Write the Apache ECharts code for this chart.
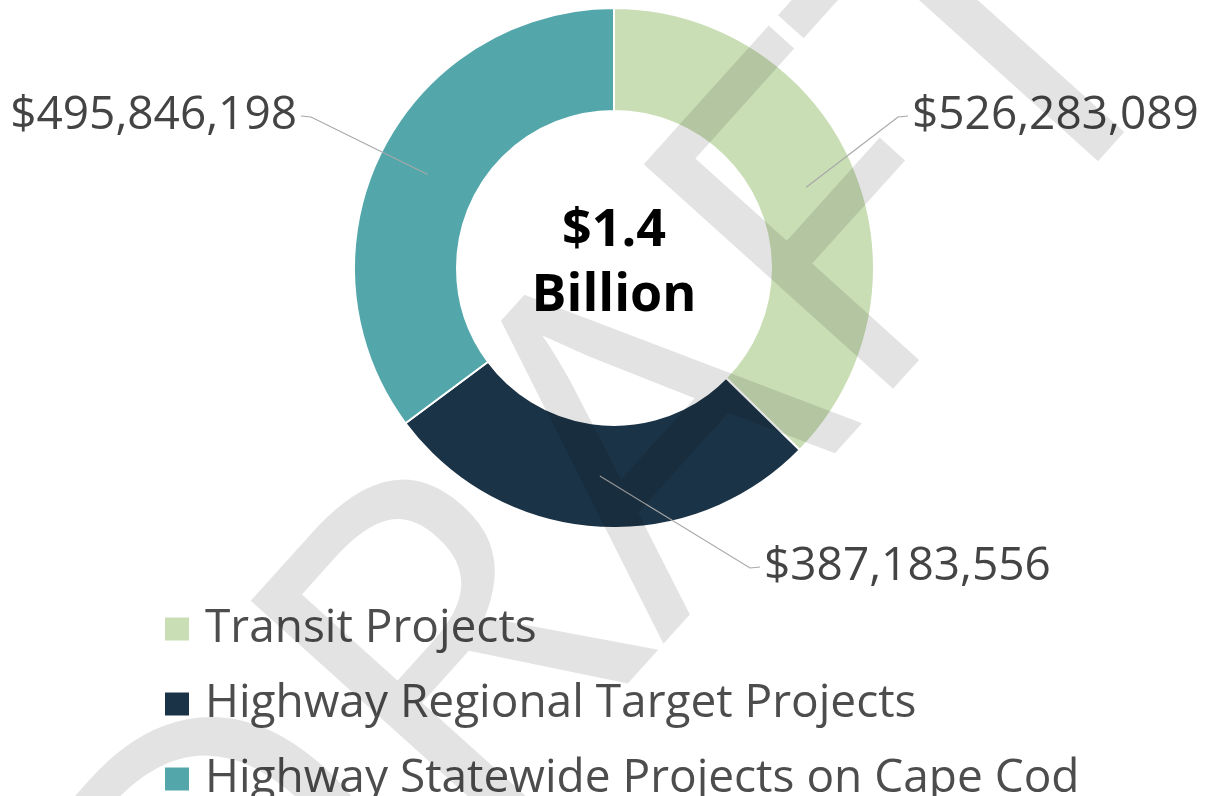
<!DOCTYPE html>
<html>
<head>
<meta charset="utf-8">
<script src="https://cdn.jsdelivr.net/npm/echarts@6/dist/echarts.min.js"></script>
<style>
html, body { margin: 0; padding: 0; background: #fff; }
#graph { width: 1207px; height: 796px; }
</style>
</head>
<body>
<div id="graph"></div>
<script>
var categories = ['Transit Projects', 'Highway Regional Target Projects', 'Highway Statewide Projects on Cape Cod'];
var amounts = [526283089, 387183556, 495846198];
var colors = ['#c9deb5', '#1b3346', '#53a7ab'];
var centerLines = ['$1.4', 'Billion'];
var watermark = 'DRAFT';

// where each value label sits (text anchor), and which side it hangs from
var labelSpots = [
    { x: 912, y: 116, align: 'left' },
    { x: 764, y: 567, align: 'left' },
    { x: 297, y: 116, align: 'right' }
];
var pieCenter = [614, 268];
var radii = [157, 260];

function money(v) {
    return '$' + v.toString().replace(/\B(?=(\d{3})+(?!\d))/g, ',');
}

var chart = echarts.init(document.getElementById('graph'), null, { renderer: 'canvas' });

var pieData = categories.map(function (c, i) {
    return { name: c, value: amounts[i] };
});

var option = {
    backgroundColor: '#ffffff',
    color: colors,
    legend: {
        orient: 'vertical',
        left: 163,
        top: 606,
        height: 240,
        padding: 0,
        itemWidth: 26,
        itemHeight: 25,
        itemGap: 29,
        icon: 'rect',
        selectedMode: false,
        textStyle: {
            fontFamily: 'Open Sans',
            fontSize: 46,
            color: '#4d4d4d',
            lineHeight: 46,
            padding: [0, 0, 0, 10]
        },
        data: categories
    },
    graphic: [
        {
            type: 'text',
            x: pieCenter[0],
            y: 264,
            z: 5,
            style: {
                text: centerLines.join('\n'),
                fontFamily: 'Open Sans',
                fontWeight: 'bold',
                fontSize: 52,
                lineHeight: 65,
                fill: '#000',
                align: 'center',
                verticalAlign: 'middle'
            }
        },
        {
            type: 'text',
            x: 620,
            y: 492,
            rotation: 48 * Math.PI / 180,
            z: 100,
            silent: true,
            style: {
                text: watermark,
                fontFamily: 'Open Sans',
                fontWeight: 'normal',
                fontSize: 470,
                fill: 'rgba(0,0,0,0.11)',
                align: 'center',
                verticalAlign: 'middle'
            }
        }
    ],
    series: [
        {
            // the coloured ring
            type: 'pie',
            center: pieCenter,
            radius: radii,
            startAngle: 90,
            clockwise: true,
            silent: true,
            z: 2,
            itemStyle: {
                borderColor: '#fff',
                borderWidth: 2
            },
            label: { show: false },
            labelLine: { show: false },
            data: pieData
        },
        {
            // same slices, transparent, only to carry labels and leader lines above the ring
            type: 'pie',
            center: pieCenter,
            radius: radii,
            startAngle: 90,
            clockwise: true,
            silent: true,
            z: 3,
            avoidLabelOverlap: false,
            itemStyle: {
                color: 'rgba(0,0,0,0)',
                borderWidth: 0
            },
            label: {
                show: true,
                position: 'outside',
                formatter: function (p) { return money(p.value); },
                fontFamily: 'Open Sans',
                fontSize: 46,
                color: '#444'
            },
            labelLine: {
                show: true,
                length: 20,
                length2: 10,
                lineStyle: { color: '#a8a8a8', width: 1.2 }
            },
            labelLayout: function (params) {
                var spot = labelSpots[params.dataIndex];
                var pts = params.labelLinePoints;
                // pull the start of the leader line into the middle of the ring
                var dx = pts[0][0] - pieCenter[0];
                var dy = pts[0][1] - pieCenter[1];
                var len = Math.sqrt(dx * dx + dy * dy);
                var rMid = (radii[0] + radii[1]) / 2;
                var start = [pieCenter[0] + dx / len * rMid, pieCenter[1] + dy / len * rMid];
                var dir = spot.align === 'left' ? -1 : 1;
                var end = [spot.x + dir * 4, spot.y];
                var elbow = [end[0] + dir * 10, end[1] + 1];
                return {
                    x: spot.x,
                    y: spot.y,
                    align: spot.align,
                    verticalAlign: 'middle',
                    labelLinePoints: [start, elbow, end]
                };
            },
            data: pieData
        }
    ]
};

chart.setOption(option);
</script>
</body>
</html>
